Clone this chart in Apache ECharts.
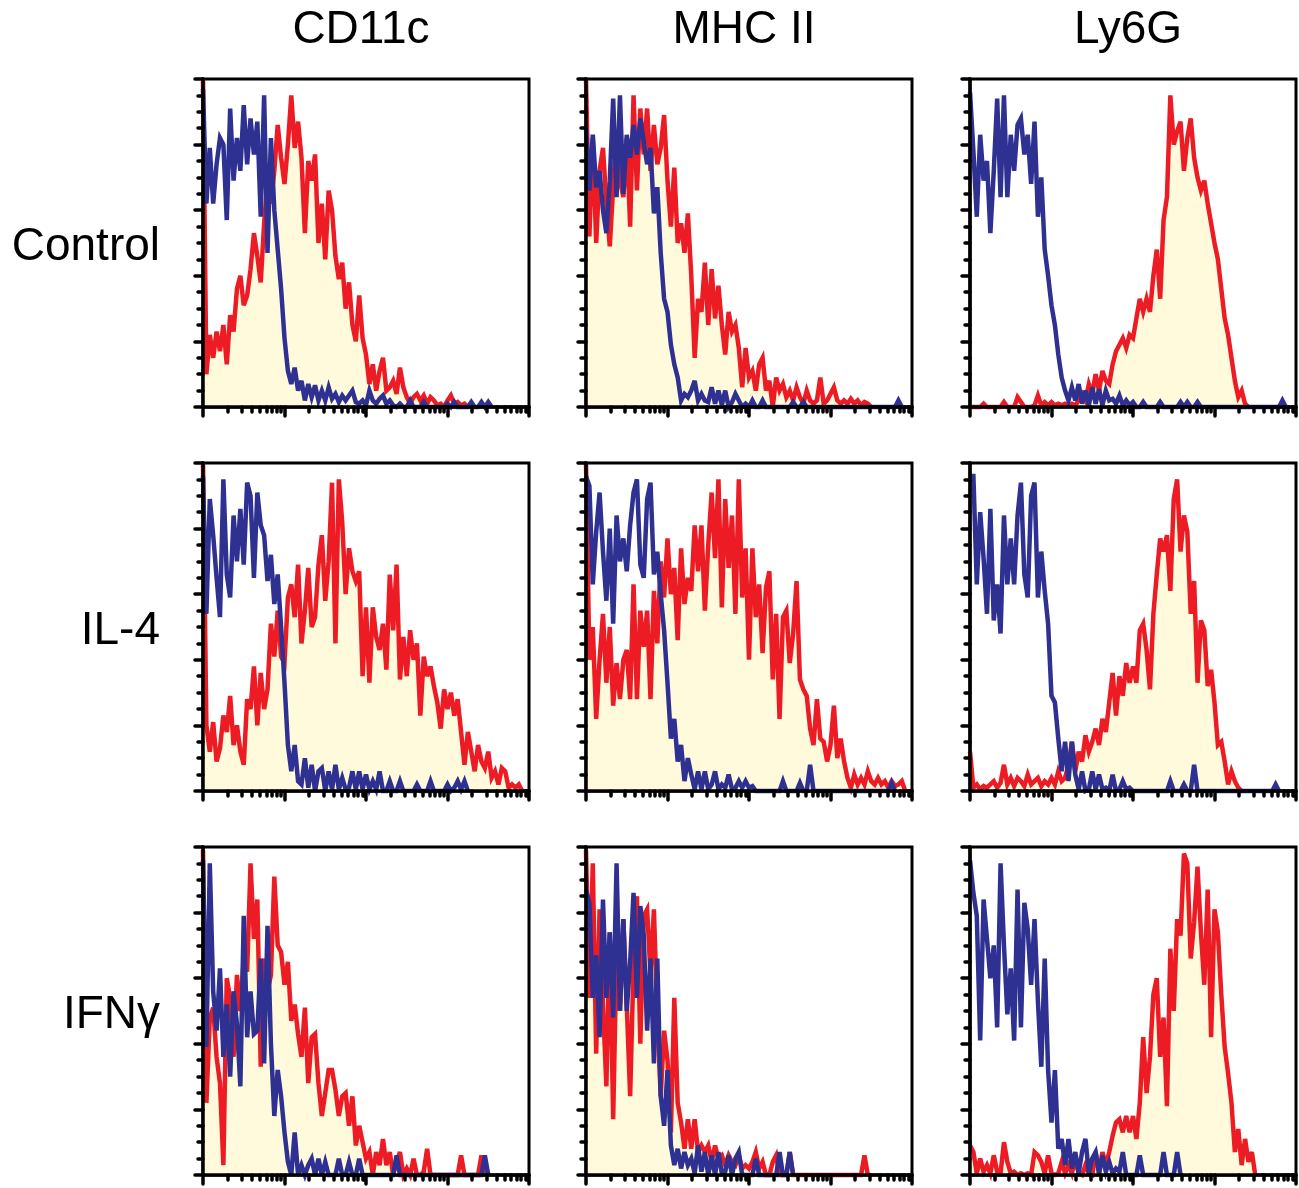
<!DOCTYPE html>
<html>
<head>
<meta charset="utf-8">
<title>Histograms</title>
<script src="https://cdn.jsdelivr.net/npm/echarts@6/dist/echarts.min.js"></script>
<style>
html, body { margin: 0; padding: 0; background: #fff; }
#main { width: 1299px; height: 1188px; }
</style>
</head>
<body>
<div id="main"></div>
<script>
// column and row labels
var markers = ["CD11c", "MHC II", "Ly6G"];
var treatments = ["Control", "IL-4", "IFNγ"];

// x axis: 96 channels = 4 log decades (24 channels each)
var channels = 96;
var decades = 4;

// counts per channel (0-100 of the y range)
var cd11cControlRed = [100,10,22,15,23,17,25,13,28,23,36,40,31,34,42,53,46,38,56,69,62,72,86,76,68,80,95,79,87,76,53,75,69,77,50,62,45,66,60,46,39,44,30,38,25,20,34,21,16,7,13,5,11,15,5,6,8,4,12,6,3,1,3,4,2,3.5,1,3,2,0.5,1,0,2,3.5,1,1.5,0.5,1,0];
var cd11cControlBlue = [97,62,79,62,74,82,80,57,91,69,82,72,92,74,88,77,87,58,95,47,82,60,48,36,21,11,7,12,5,8,2,7,3,6.6,2,5,2,6,2.5,4,1.5,3.5,2,3.5,5,1.5,1,2,0.5,5,2,1,2.5,3.5,1,2,0.5,0,1,0,0,2,0,0,0,1.5,0,0,0,0,0,0,1,0,1.5,0,0,0,0,1.5,0,0,1.5,0,1.5,0];
var mhcControlRed = [100,52,82,50,72,79,62,49,67,84,69,64,82,55,95,66,91,77,91,72,86,74,79,89,69,55,73,50,56,47,59,40,15,33,29,44,25,42,27,37,25,16,29,23,25,18,6,18,9,11,5,13,15,5,8,0,9,5,7,3,5,2,6,3,1,5,2,1,2,9,1,2,4,6,2,1,2,1,2.5,1,2,0.5,1.5,1,0];
var mhcControlBlue = [85,66,83,67,72,60,53,69,94,64,95,65,83,76,86,77,88,81,74,79,59,67,47,33,29,19,13,9,2,4,3,5,8,2,4,2,1.5,6,1,5,0.5,5,0,1.5,4,2,0,1,0,2,0,0,2,0,0,0,0,0,0,0,0,1.5,0,0,1.5,0,0,0,0,0,0,0,0,0,0,0,0,0,0,0,0,0,0,0,0,0,0,0,0,0,0,0,2,0];
var ly6gControlRed = [0,0,0,0,1,0,0,0,0,0,1.5,0,0,0,3,1.5,0,0,0,0.5,3.5,0.5,1.5,0.5,1.5,0.5,1,0.5,1,0.5,1,0.5,2,4,2,7,4,10,5,11,8,7,13,17,19,21,18,22,21,27,33,29,33,29,40,48,33,57,64,95,80,84,87,72,82,88,76,70,66,69,62,56,50,45,36,27,22,15,8,3,5,1,0];
var ly6gControlBlue = [96,78,58,83,69,75,53,72,94,64,95,64,83,72,86,88,77,83,68,87,58,70,48,40,31,25,16,9,5,2,6,2,7,1,5,0.5,6,1,5.5,0.5,5,2,2.5,1,3.5,0.5,2,0.5,1.5,0,0,1.5,0,0,0,0,1.5,0,0,0,0,0,1.5,0,1.5,0,0,1.5,0,0,0,0,0,0,0,0,0,0,0,0,0,0,0,0,0,0,0,0,0,0,0,0,2,0];

var cd11cIl4Red = [100,20,12,21,9,13,23,18,29,14,20,12,8,28,25,38,20,36,25,31,51,41,55,41,39,59,63,53,69,45,55,68,50,53,69,78,58,70,94,45,95,82,60,74,67,64,67,35,56,33,56,47,43,51,37,66,49,69,34,47,35,49,40,45,23,41,35,38,32,27,19,31,25,30,23,28,18,8,18,12,6,14,9,7,12,4,6,2,7,6,1,2,1,2,0];
var cd11cIl4Blue = [96,54,89,78,65,53,95,66,59,84,70,86,69,94,90,65,91,81,78,64,72,57,66,50,33,14,6,14,3,2,10,1,8,0,6,7,0,6,0.5,8,0.5,4,0.5,1,6,0.5,6,0.5,5,0.5,3,0.5,6,0,0,3,0,0,3,0,0,0,0,2,0,0,0,3,0,0,0,0,2,0,1,3,0.5,3,0];
var mhcIl4Red = [100,40,50,22,40,54,33,50,26,39,28,40,43,28,63,28,55,44,55,28,61,45,70,59,77,60,68,46,74,57,65,61,81,67,81,55,75,91,71,95,56,89,68,84,54,95,59,74,40,74,53,63,42,62,67,34,54,22,53,55,39,48,64,34,31,29,19,14,28,16,15,9,14,26,10,16,9,4,1,5,2,4,2,6,3,2,4,2,3,1,3,1.5,2,3,0];
var mhcIl4Blue = [96,93,63,79,91,73,58,80,51,84,70,77,67,81,91,95,69,65,89,94,66,73,60,49,33,16,22,9,14,3,10,5,0.5,6,0.5,6,0.5,2,6,0.5,2,1,5,0.5,1,3,1,3,1,1.5,0,0,0,0,0,0,0,0,3,0,0,0,0,2.5,0,0,8,0,0,0,0,0,0,0,0,0,0,0,0,0,0,0,0,0,0,0,0,0,0,0,2.5,0];
var ly6gIl4Red = [12,1,2,0.5,1.5,1,2,3,1,2.5,8,2,4,1.5,4,3,1.5,5,2,3,4,1.5,3,2,4,2,6,3,4,8,15,6,12,9,17,12,15,19,14,22,18,27,36,23,35,29,39,33,38,33,49,51,43,31,54,66,77,73,78,61,89,95,73,84,79,54,64,33,52,49,32,37,27,14,15,9,2,6,3,1,0];
var ly6gIl4Blue = [96,96,63,85,71,54,86,52,63,48,84,63,77,63,84,94,66,59,90,94,59,73,61,51,29,27,16,6,15,3,15,5,0.5,6,0,0.5,6,0.5,5,0.5,1,0,5,0,0.5,3,0.5,1,0,0,0,0,0,0,0,0,0,0,0,3,0,0,0,2,0,0,8,0,0,0,0,0,0,0,0,0,0,0,0,0,0,0,0,0,0,0,0,0,0,0,2,0];

var cd11cIfngRed = [99,22,48,51,36,28,3,60,54,36,61,50,66,62,95,72,84,33,66,56,61,91,70,68,58,65,47,52,43,36,51,28,42,43,28,18,25,32,32,26,18,24,25,15,24,9,15,10,5,7,0,7,3,11,3,7,0,4,7,0,2,0,5,0,0,1,8,0,0,0,0,0,0,0,0,0,6,0,0,0,0,0,6,0];
var cd11cIfngBlue = [96,39,95,56,44,63,36,52,30,56,46,27,79,42,56,43,44,66,34,76,40,18,32,24,13,4,0,13,0,3,0,3,5,0,5,0,4,0,0,0,5,0,0,4,0,0,5,0,0,0,0,0,0,0,0,0,0,6,0,0,0,0,0,0,0,0,0,0,0,0,0,0,0,0,0,0,0,0,0,0,0,0,0,6,0];
var mhcIfngRed = [99,54,95,37,81,52,27,74,17,69,50,78,52,24,64,85,40,79,81,61,81,48,24,44,35,13,54,22,16,8,17,8,17,7,9,7,9,4,9,5,6,3,6,4,3,6,2,3,2,4,7,2,4,0,0,4,6,0,0,0,7,0,0,0,0,0,0,0,0,0,0,0,0,0,0,0,0,0,0,0,0,0,6,0];
var mhcIfngBlue = [87,83,54,67,42,84,54,74,48,95,50,78,50,65,86,54,82,73,44,66,34,66,24,15,32,9,3,8,2,7,3,5,0.5,9,1,7,0,6,0,7,0.5,1,6,0,5,7,0,0,0,0,5,0,0,0,0,0,0,7,0,0,7,0];
var ly6gIfngRed = [9,7,0.5,5,1,3,0.5,6,1,0.5,10,4,0.5,1,0,0.5,0,0.5,0,7,6,4,0.5,6,0.5,0,0.5,4,0.5,3,0.5,5,0.5,0,3,0.5,0,7,0.5,7,3,7,12,16,17,13,18,13,18,11,22,42,25,36,55,60,36,48,21,69,50,78,73,98,95,66,77,94,74,58,87,42,81,74,55,39,31,22,7,14,3,11,4,7,0];
var ly6gIfngBlue = [96,86,79,41,84,72,60,70,45,95,70,49,63,41,87,45,83,75,58,78,53,33,66,32,16,32,8,11,3,11,2,7,0.5,7,11,0.5,5,7,0.5,6,1,4,0.5,2,1,7,0,0,0,0,6,0,0,0,0,0,0,7,0,0,0,7,0];

// rows = treatments, columns = markers
var redData = [
  [cd11cControlRed, mhcControlRed, ly6gControlRed],
  [cd11cIl4Red, mhcIl4Red, ly6gIl4Red],
  [cd11cIfngRed, mhcIfngRed, ly6gIfngRed]
];
var blueData = [
  [cd11cControlBlue, mhcControlBlue, ly6gControlBlue],
  [cd11cIl4Blue, mhcIl4Blue, ly6gIl4Blue],
  [cd11cIfngBlue, mhcIfngBlue, ly6gIfngBlue]
];

// log ticks on the x axis
var perDecade = channels / decades;
var majorTicks = [];
var minorTicks = [];
for (var d = 0; d <= decades; d++) {
  majorTicks.push(d * perDecade);
  if (d < decades) {
    for (var k = 2; k <= 9; k++) minorTicks.push((d + Math.log10(k)) * perDecade);
  }
}

var colLeft = [203, 586, 970];
var rowTop = [79, 463, 847];
var panelW = 326;
var panelH = 328;

var RED = "#ED1C24";
var BLUE = "#2E3192";
var FILL = "#FFFADC";
var tickStyle = { color: "#000", width: 3.5, cap: "round" };

function toPoints(arr) {
  return arr.map(function (v, i) { return [i, v]; });
}

var grid = [], xAxis = [], yAxis = [], series = [];
for (var r = 0; r < 3; r++) {
  for (var c = 0; c < 3; c++) {
    var g = r * 3 + c;
    grid.push({
      left: colLeft[c], top: rowTop[r], width: panelW, height: panelH,
      show: true, borderColor: "#000", borderWidth: 3, backgroundColor: "transparent"
    });
    xAxis.push({
      gridIndex: g, type: "value", min: 0, max: channels, position: "bottom", z: 5,
      axisLine: { show: true, onZero: false, lineStyle: { color: "#000", width: 3.5 } },
      axisTick: { show: true, customValues: majorTicks, length: 9, lineStyle: tickStyle },
      axisLabel: { show: false }, splitLine: { show: false }
    });
    xAxis.push({
      gridIndex: g, type: "value", min: 0, max: channels, position: "bottom", z: 5,
      axisLine: { show: false, onZero: false },
      axisTick: { show: true, customValues: minorTicks, length: 5, lineStyle: tickStyle },
      axisLabel: { show: false }, splitLine: { show: false }
    });
    yAxis.push({
      gridIndex: g, type: "value", min: 0, max: 100, interval: 20, z: 5,
      axisLine: { show: true, lineStyle: { color: "#000", width: 3.5 } },
      axisTick: { show: true, length: 8, lineStyle: tickStyle },
      minorTick: { show: true, splitNumber: 4, length: 5, lineStyle: tickStyle },
      axisLabel: { show: false }, splitLine: { show: false }, minorSplitLine: { show: false }
    });
    series.push({
      type: "line", xAxisIndex: 2 * g, yAxisIndex: g, data: toPoints(redData[r][c]),
      symbol: "none", clip: false, z: 2, silent: true,
      lineStyle: { color: RED, width: 4.5, join: "miter", miterLimit: 4 },
      areaStyle: { color: FILL, opacity: 1 }
    });
    series.push({
      type: "line", xAxisIndex: 2 * g, yAxisIndex: g, data: toPoints(blueData[r][c]),
      symbol: "none", clip: false, z: 3, silent: true,
      lineStyle: { color: BLUE, width: 4.5, join: "miter", miterLimit: 4 }
    });
  }
}

var font = '46px "Liberation Sans", Arial, sans-serif';
var graphic = [];
markers.forEach(function (m, i) {
  graphic.push({ type: "text", x: colLeft[i] + panelW / 2 - 5, y: 30,
    style: { text: m, font: font, fill: "#000", align: "center", verticalAlign: "middle" } });
});
treatments.forEach(function (t, i) {
  graphic.push({ type: "text", x: 160, y: rowTop[i] + panelH / 2 + 4,
    style: { text: t, font: font, fill: "#000", align: "right", verticalAlign: "middle" } });
});

var myChart = echarts.init(document.getElementById("main"));
myChart.setOption({
  animation: false,
  backgroundColor: "#fff",
  grid: grid,
  xAxis: xAxis,
  yAxis: yAxis,
  series: series,
  graphic: graphic
});
</script>
</body>
</html>
